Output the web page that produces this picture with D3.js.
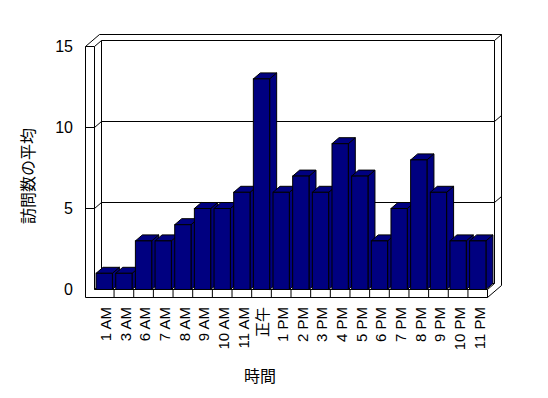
<!DOCTYPE html>
<html>
<head>
<meta charset="utf-8">
<script src="https://cdn.jsdelivr.net/npm/d3@7"></script>
<style>
  body { margin: 0; background: #fff; }
  text { font-family: "Liberation Sans", Arial, "Noto Sans CJK JP", sans-serif; }
</style>
</head>
<body>
<div id="chart"></div>
<script>
const hours = ['1 AM', '3 AM', '6 AM', '7 AM', '8 AM', '9 AM', '10 AM', '11 AM', '正午',
  '1 PM', '2 PM', '3 PM', '4 PM', '5 PM', '6 PM', '7 PM', '8 PM', '9 PM', '10 PM', '11 PM'];
const avgVisits = [1, 1, 3, 3, 4, 5, 5, 6, 13, 6, 7, 6, 9, 7, 3, 5, 8, 6, 3, 3];
const yTicks = [0, 5, 10, 15];

const w = 548;
const h = 398;

// front plane of the plot box, and the depth offset for the 3d look
const pLeft = 94, pRight = 487, pBottom = 289, pTop = 46;
const wallW = 9;      // thickness of left wall / floor face
const dx = 7, dy = -6;

const svg = d3.select('#chart').append('svg')
  .attr('width', w)
  .attr('height', h);

const xScale = d3.scaleBand()
  .domain(hours)
  .range([pLeft, pRight])
  .paddingInner(0.17)
  .paddingOuter(0.08);

const yScale = d3.scaleLinear()
  .domain([0, 15])
  .range([pBottom, pTop]);

const g = svg.append('g').attr('transform', 'translate(0.5,0.5)');

// outer outline of walls + floor
g.append('path')
  .attr('d', `M${pLeft - wallW},${pBottom + 8} L${pLeft - wallW},${pTop} L${pLeft - wallW + 2 * dx},${pTop + 2 * dy}
    L${pRight + 2 * dx},${pTop + 2 * dy} L${pRight + 2 * dx},${pBottom + 8 + 2 * dy} L${pRight},${pBottom + 8} Z`)
  .attr('fill', '#fff')
  .attr('stroke', '#000');

const gl = (x1, y1, x2, y2) => g.append('line')
  .attr('x1', x1).attr('y1', y1).attr('x2', x2).attr('y2', y2)
  .attr('stroke', '#000');

// left wall
gl(pLeft - wallW, pTop, pLeft, pTop);
gl(pLeft, pTop, pLeft, pBottom);
gl(pLeft, pTop, pLeft + dx, pTop + dy);
gl(pLeft + dx, pTop + dy, pLeft + dx, pBottom + dy);
// back wall
gl(pLeft + dx, pTop + dy, pRight + dx, pTop + dy);
gl(pRight + dx, pTop + dy, pRight + dx, pBottom + dy);
gl(pRight + dx, pTop + dy, pRight + 2 * dx, pTop + 2 * dy);
// floor
gl(pLeft, pBottom, pRight, pBottom);
gl(pRight, pBottom, pRight, pBottom + 8);
gl(pRight, pBottom, pRight + dx, pBottom + dy);
gl(pLeft, pBottom, pLeft + dx, pBottom + dy);
gl(pLeft + dx, pBottom + dy, pRight + dx, pBottom + dy);

// gridlines + ticks on the left wall
yTicks.filter(d => d > 0 && d < 15).forEach(d => {
  const y = yScale(d);
  gl(pLeft - wallW, y, pLeft, y);
  gl(pLeft, y, pLeft + dx, y + dy);
  gl(pLeft + dx, y + dy, pRight + dx, y + dy);
  gl(pRight + dx, y + dy, pRight + 2 * dx, y + 2 * dy);
});

// category ticks on the floor face
const step = xScale.step();
hours.slice(1).forEach(d => {
  const x = xScale(d) - step * 0.085;
  gl(x, pBottom, x, pBottom + 8);
});

// bars: side, top, front
const bars = g.selectAll('g.bar')
  .data(hours.map((d, i) => ({ hour: d, v: avgVisits[i] })))
  .enter()
  .append('g')
  .attr('class', 'bar');

const bw = xScale.bandwidth();

bars.append('path')
  .attr('d', d => {
    const x0 = xScale(d.hour) + bw, y0 = yScale(d.v);
    return `M${x0},${y0} L${x0 + dx},${y0 + dy} L${x0 + dx},${pBottom + dy} L${x0},${pBottom} Z`;
  })
  .attr('fill', '#000080').attr('stroke', '#000');

bars.append('path')
  .attr('d', d => {
    const x0 = xScale(d.hour), y0 = yScale(d.v);
    return `M${x0},${y0} L${x0 + dx},${y0 + dy} L${x0 + bw + dx},${y0 + dy} L${x0 + bw},${y0} Z`;
  })
  .attr('fill', '#000080').attr('stroke', '#000');

bars.append('rect')
  .attr('x', d => xScale(d.hour))
  .attr('y', d => yScale(d.v))
  .attr('width', bw)
  .attr('height', d => pBottom - yScale(d.v))
  .attr('fill', '#000080').attr('stroke', '#000');

// y tick labels
svg.selectAll('text.ytick')
  .data(yTicks)
  .enter()
  .append('text')
  .attr('class', 'ytick')
  .attr('x', 73)
  .attr('y', d => yScale(d))
  .attr('dy', '0.35em')
  .attr('text-anchor', 'end')
  .attr('font-size', 16)
  .text(d => d);

// x labels, rotated
svg.selectAll('text.xlab')
  .data(hours)
  .enter()
  .append('text')
  .attr('class', 'xlab')
  .attr('transform', d => `translate(${xScale(d) + bw / 2 + 2},307) rotate(-90)`)
  .attr('dy', '0.35em')
  .attr('text-anchor', 'end')
  .attr('font-size', 15)
  .text(d => d);

// axis titles
svg.append('text')
  .attr('transform', 'translate(28,176) rotate(-90)')
  .attr('text-anchor', 'middle')
  .attr('dy', '0.35em')
  .attr('font-size', 16)
  .style('font-family', '"Noto Sans CJK JP", sans-serif')
  .text('訪問数の平均');

svg.append('text')
  .attr('x', 260)
  .attr('y', 376)
  .attr('text-anchor', 'middle')
  .attr('dy', '0.35em')
  .attr('font-size', 16)
  .style('font-family', '"Noto Sans CJK JP", sans-serif')
  .text('時間');
</script>
</body>
</html>
